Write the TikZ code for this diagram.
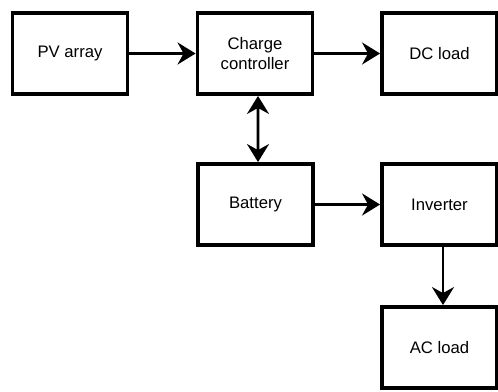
\documentclass[tikz,border=0pt]{standalone}
\usepackage{fontspec}
\setmainfont{Liberation Sans}
\usetikzlibrary{arrows.meta,positioning}
\tikzset{
  blk/.style={draw,line width=2.2pt,minimum width=2.3cm,minimum height=1.62cm,
              inner sep=0pt,align=center,font=\fontsize{9.5}{11.5}\selectfont},
  rblk/.style={blk,minimum width=2.3cm},
  arr/.style={-{Stealth[length=0.36cm,width=0.44cm,inset=0.12cm]},line width=1.7pt},
  darr/.style={{Stealth[length=0.36cm,width=0.44cm,inset=0.12cm]}-{Stealth[length=0.36cm,width=0.44cm,inset=0.12cm]},line width=1.7pt},
}
\begin{document}
\begin{tikzpicture}[x=0.02cm,y=-0.02cm]
  \useasboundingbox (0,0) rectangle (498,392);
  % top row
  \node[blk] (pv) at (70,53.5) {PV array};
  \node[blk] (cc) at (255,53.5) {Charge\\controller};
  \node[rblk] (dc) at (439.5,53.5) {DC load};
  % middle row
  \node[blk] (bat) at (255.5,204.5) {Battery};
  \node[rblk] (inv) at (439.5,204.5) {Inverter};
  % bottom
  \node[rblk] (ac) at (439.5,347.5) {AC load};
  \draw[arr] (pv) -- (cc);
  \draw[arr] (cc) -- (dc);
  \draw[darr] ([xshift=0.06cm]cc.south) -- ([xshift=0.05cm]bat.north);
  \draw[arr] (bat) -- (inv);
  \draw[arr] ([xshift=0.07cm]inv.south) -- ([xshift=0.07cm]ac.north);
\end{tikzpicture}
\end{document}
